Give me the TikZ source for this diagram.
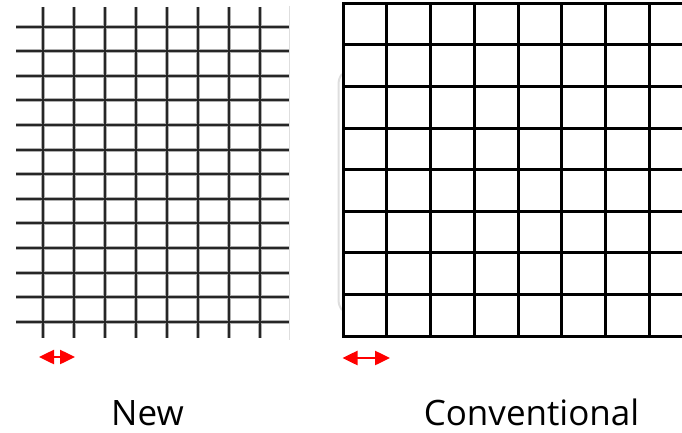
\documentclass[tikz,border=0pt]{standalone}
\usepackage{fontspec}
\setmainfont{Open Sans}
\usepackage{tikz}
\usetikzlibrary{arrows.meta,positioning}
\definecolor{ink}{RGB}{0,0,0}
\definecolor{finegrid}{RGB}{38,38,38}
\definecolor{halo}{RGB}{175,175,175}
\definecolor{sheetedge}{RGB}{222,222,222}
\definecolor{pitchred}{RGB}{255,0,0}
\tikzset{
  finehalo/.style={draw=halo,line width=4pt},
  fineline/.style={draw=finegrid,line width=2pt},
  coarseline/.style={draw=ink,line width=3pt,line cap=rect},
  pitcharrow/.style={draw=pitchred,line width=2.5pt,
    {Triangle[length=15pt,width=14pt]}-{Triangle[length=15pt,width=14pt]}},
  caption/.style={font=\fontsize{35}{42}\selectfont,anchor=base,inner sep=0pt}
}

\begin{document}
\begin{tikzpicture}[x=1pt,y=-1pt]
  \useasboundingbox (0,0) rectangle (682,433);
  % new: fine pitch grid
  \foreach \j in {0,...,12}{
    \draw[finehalo] (16,{26.7+24.58*\j}) -- (290,{26.7+24.58*\j});}
  \foreach \i in {0,...,7}{
    \draw[finehalo] ({43+31*\i},7) -- ({43+31*\i},338);}
  \foreach \j in {0,...,12}{
    \draw[fineline] (16,{26.7+24.58*\j}) -- (290,{26.7+24.58*\j});}
  \foreach \i in {0,...,7}{
    \draw[fineline] ({43+31*\i},7) -- ({43+31*\i},338);}
  \draw[sheetedge,line width=1pt] (289.5,6) -- (289.5,340);
  % conventional: coarse pitch grid
  \draw[sheetedge,line width=2pt,rounded corners=4pt]
    (342,74) -- (338.5,79) -- (338.5,305) -- (342,310);
  \foreach \i in {0,...,7}{
    \draw[coarseline] ({343+43.75*\i},3.3) -- ({343+43.75*\i},336);}
  \foreach \j in {0,...,8}{
    \draw[coarseline] (343,{3.3+41.59*\j}) -- (684,{3.3+41.59*\j});}
  % pitch markers
  \coordinate (newL) at (39,357);
  \coordinate (newR) at (75,357);
  \coordinate (convL) at (342.5,358);
  \coordinate (convR) at (390,358);
  \draw[pitcharrow] (newL) -- (newR);
  \draw[pitcharrow] (convL) -- (convR);
  % captions
  \node[caption] (newlabel) at (147.5,425) {New};
  \node[caption] (convlabel) at (531.5,425) {Conventional};
\end{tikzpicture}
\end{document}
